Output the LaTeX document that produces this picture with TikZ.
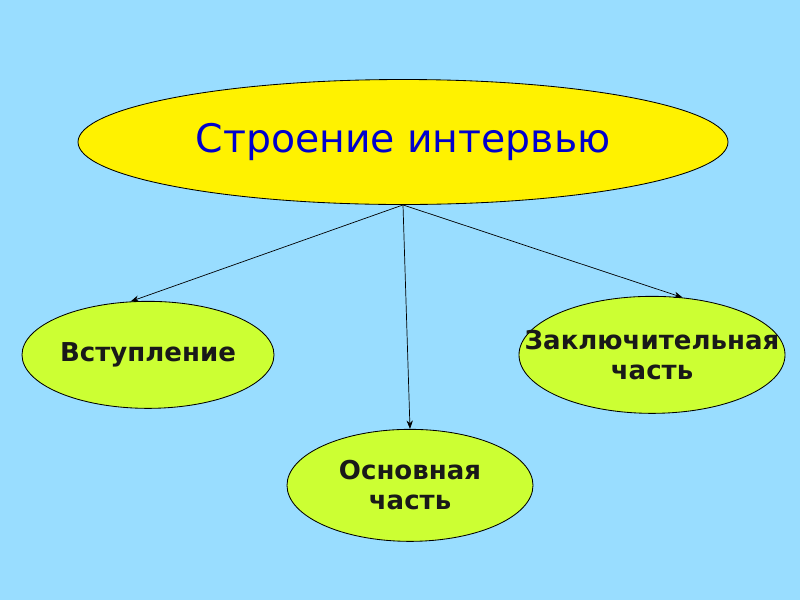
\documentclass[tikz,border=0pt]{standalone}
\usepackage{fontspec}
\setmainfont{DejaVu Sans}
\usepackage{xcolor}
\usetikzlibrary{shapes.geometric, arrows.meta, positioning}
\definecolor{skyback}{RGB}{153,221,255}
\definecolor{limefill}{RGB}{204,255,51}
\definecolor{titleblue}{RGB}{0,0,204}
\tikzstyle{topoval}  = [ellipse, draw=black, line width=0.6pt, fill=yellow,
                        minimum width=16.25cm, minimum height=3.125cm,
                        text=titleblue, font=\fontsize{28}{32}\selectfont]
\tikzstyle{partoval} = [ellipse, draw=black, line width=0.6pt, fill=limefill,
                        align=center, text=black!90, inner sep=0pt,
                        font=\fontsize{18.5}{21.5}\selectfont\bfseries]
\tikzstyle{arr}      = [-{Stealth[length=6pt,width=4.5pt]}, line width=0.5pt]

\begin{document}
\begin{tikzpicture}
  \fill[skyback] (0,0) rectangle (20,-15);
  \useasboundingbox (0,0) rectangle (20,-15);

  \node[topoval] (top) at (10.075,-3.55) {Строение интервью};

  \node[partoval, below=2.4cm of top, xshift=-6.375cm,
        minimum width=6.3cm, minimum height=2.675cm] (intro) {Вступление};
  \node[partoval, below=5.6cm of top, xshift=0.175cm,
        minimum width=6.15cm, minimum height=2.8cm] (main) {Основная\\часть};
  \node[partoval, below=2.275cm of top, xshift=6.225cm, inner xsep=-1cm,
        minimum width=6.65cm, minimum height=2.925cm] (final) {Заключительная\\часть};

  \draw[arr] (top.south) -- (intro.108);
  \draw[arr] (top.south) -- (main.north);
  \draw[arr] (top.south) -- (final.62);
\end{tikzpicture}
\end{document}
